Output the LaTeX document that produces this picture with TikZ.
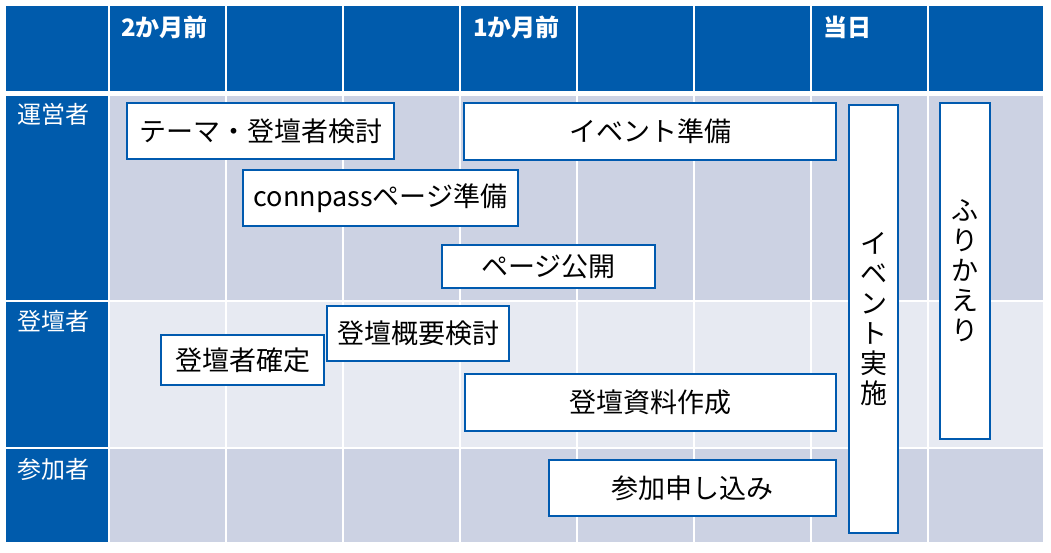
\documentclass[tikz,border=0pt]{standalone}
\usepackage{fontspec}
\setmainfont{Noto Sans CJK JP}
\definecolor{HeadBlue}{RGB}{0,91,172}
\definecolor{RowDark}{RGB}{204,210,227}
\definecolor{RowLight}{RGB}{231,234,242}
\definecolor{BoxBlue}{RGB}{0,90,175}
\usepackage{tikz}
\usetikzlibrary{positioning}

\begin{document}
\begin{tikzpicture}[x=1pt, y=-1pt,
    gridline/.style={white, line width=2pt},
    headtext/.style={anchor=base west, text=white, inner sep=0pt,
                     font=\fontsize{24}{28}\selectfont\bfseries},
    roletext/.style={anchor=base west, text=white, inner sep=0pt,
                     font=\fontsize{24}{28}\selectfont},
    taskbox/.style={draw=BoxBlue, fill=white, line width=2.5pt, inner sep=0pt,
                    font=\fontsize{27}{30}\selectfont},
    tallbox/.style={taskbox, align=center, font=\fontsize{27}{30}\selectfont}]
  \useasboundingbox (0,0) rectangle (1051,552);
  % table background
  \fill[HeadBlue] (6,6) rectangle (1043,93);
  \fill[HeadBlue] (6,93) rectangle (109,542);
  \fill[RowDark] (109,93) rectangle (1043,301);
  \fill[RowLight] (109,301) rectangle (1043,448);
  \fill[RowDark] (109,448) rectangle (1043,542);
  \foreach \x in {109,226,343,460,577,694,811,928}
    \draw[gridline] (\x,6) -- (\x,542);
  \draw[white, line width=5pt] (6,93.5) -- (1043,93.5);
  \draw[gridline] (6,301) -- (1043,301);
  \draw[gridline] (6,448) -- (1043,448);

  % header and roles
  \node[headtext] (twomonth) at (121,36) {2か月前};
  \node[headtext] (onemonth) at (473,36) {1か月前};
  \node[headtext] (theday) at (823,36) {当日};
  \node[roletext] (staff) at (17,123) {運営者};
  \node[roletext] (speaker) at (17,330) {登壇者};
  \node[roletext] (guest) at (17,478) {参加者};

  % tasks
  \node[taskbox, minimum width=267, minimum height=56] (theme) at (260.5,131) {テーマ・登壇者検討};
  \node[taskbox, minimum width=372, minimum height=57] (prep) at (650,131.5) {イベント準備};
  \node[taskbox, minimum width=275, minimum height=56] (connpass) at (380.5,198) {connpassページ準備};
  \node[taskbox, minimum width=213, minimum height=43] (publish) at (548.5,266.5) {ページ公開};
  \node[taskbox, minimum width=182, minimum height=55] (abstract) at (418,333.5) {登壇概要検討};
  \node[taskbox, minimum width=163, minimum height=50] (fixed) at (242.5,360) {登壇者確定};
  \node[taskbox, minimum width=371, minimum height=57] (slides) at (650.5,402.5) {登壇資料作成};
  \node[taskbox, minimum width=287, minimum height=56] (entry) at (692.5,488) {参加申し込み};
  \node[tallbox, minimum width=49, minimum height=428] (event) at (873.5,319) {イ\\ベ\\ン\\ト\\実\\施};
  \node[tallbox, minimum width=50, minimum height=336] (retro) at (965,271) {ふ\\り\\か\\え\\り};
\end{tikzpicture}
\end{document}
